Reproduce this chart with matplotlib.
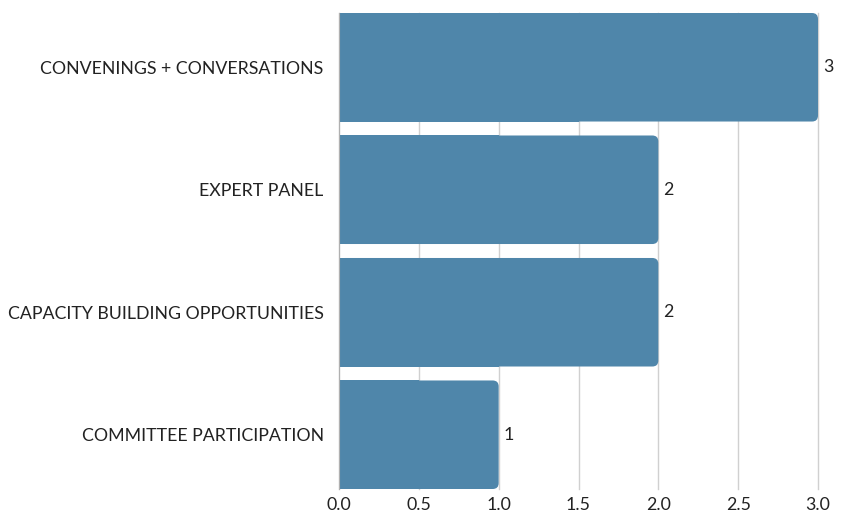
import numpy as np
import matplotlib.pyplot as plt
from matplotlib.patches import FancyBboxPatch, Rectangle

plt.rcParams['font.family'] = ['Lato', 'DejaVu Sans']

categories = ['CONVENINGS + CONVERSATIONS', 'EXPERT PANEL',
              'CAPACITY BUILDING OPPORTUNITIES', 'COMMITTEE PARTICIPATION']
values = [3, 2, 2, 1]
xticks = [0.0, 0.5, 1.0, 1.5, 2.0, 2.5, 3.0]

bar_color = '#4f86aa'
text_color = '#222222'
fs = 12.8
h = 0.886

fig = plt.figure(figsize=(8.41, 5.18), dpi=100)
ax = fig.add_axes([339/841, 1-489/518, (818-339)/841, 476/518])

ax.set_xlim(0, 3.0)
ax.set_ylim(3 + h/2, -h/2)

# aspect between y data units and x data units per pixel
xpp = 3.0 / (818 - 339)
ypp = (3 + h) / 476
r = 6 * xpp

y = np.arange(len(categories))
for yi, v in zip(y, values):
    p = FancyBboxPatch((0, yi - h/2), v, h,
                       boxstyle='round,pad=0,rounding_size=%f' % r,
                       mutation_aspect=ypp/xpp,
                       fc=bar_color, ec='none', zorder=2)
    ax.add_patch(p)
    ax.add_patch(Rectangle((0, yi - h/2), v/2, h, fc=bar_color, ec='none', zorder=2))
    ax.text(v + 5*xpp, yi, str(v), va='center', ha='left',
            fontsize=fs, color=text_color)

ax.set_yticks(y)
ax.set_yticklabels(categories)
ax.set_xticks(xticks)
ax.set_xticklabels(['%.1f' % t for t in xticks])
ax.tick_params(axis='both', length=0, labelsize=fs, labelcolor=text_color)
ax.tick_params(axis='y', pad=11)
ax.tick_params(axis='x', pad=6)

ax.grid(axis='x', color='#d0d0d0', lw=1, zorder=0)
for gl in ax.get_xgridlines():
    gl.set_clip_on(False)
ax.set_axisbelow(True)
for s in ['top', 'right', 'bottom']:
    ax.spines[s].set_visible(False)
ax.spines['left'].set_color('#b0b0b0')
ax.spines['left'].set_zorder(3)

fig.savefig('out.png', dpi=100)
